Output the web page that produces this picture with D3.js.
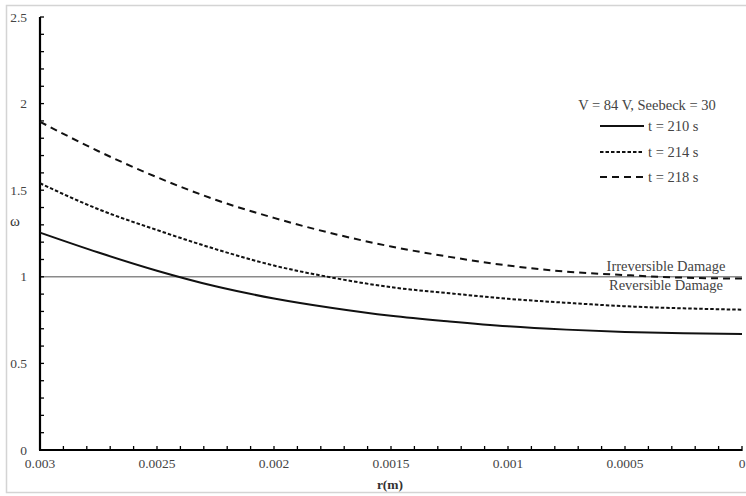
<!DOCTYPE html>
<html><head><meta charset="utf-8">
<script src="https://cdn.jsdelivr.net/npm/d3@7"></script>
<style>body{margin:0;background:#fff}svg{display:block;font-family:"Liberation Serif","Times New Roman",serif}</style>
</head><body><svg id="c" width="746" height="496"></svg>
<script>
const rValues = [0.003,0.00275,0.0025,0.00225,0.002,0.00175,0.0015,0.00125,0.001,0.00075,0.0005,0.00025,0];
const omega210 = [1.255,1.14,1.035,0.945,0.875,0.82,0.775,0.742,0.714,0.695,0.682,0.674,0.67];
const omega214 = [1.54,1.39,1.27,1.16,1.065,0.995,0.94,0.905,0.873,0.85,0.83,0.818,0.81];
const omega218 = [1.895,1.725,1.575,1.445,1.34,1.25,1.175,1.115,1.065,1.03,1.01,0.995,0.99];
const seriesLabels = ["t = 210 s","t = 214 s","t = 218 s"];
const xTicks = [0.003,0.0025,0.002,0.0015,0.001,0.0005,0];
const xTickLabels = ["0.003","0.0025","0.002","0.0015","0.001","0.0005","0"];
const yTicks = [0,0.5,1,1.5,2,2.5];
const yTickLabels = ["0","0.5","1","1.5","2","2.5"];
const threshold = 1;
const legendTitle = "V = 84 V, Seebeck = 30";

const svg = d3.select("#c");
svg.append("rect").attr("x",6.5).attr("y",5.5).attr("width",760).attr("height",487)
  .attr("fill","#fff").attr("stroke","#d4d4d4").attr("stroke-width",1.5);

const x = d3.scaleLinear().domain([0.003,0]).range([40,742]);
const y = d3.scaleLinear().domain([0,2.5]).range([450,17]);

// threshold line
svg.append("line").attr("x1",x(0.003)).attr("x2",x(0)).attr("y1",y(threshold)).attr("y2",y(threshold))
  .attr("stroke","#8a8a8a").attr("stroke-width",1.6);

// axes
const yMinor = d3.range(0,2.51,0.1);
const xMinor = d3.range(0,0.00301,0.0001);
const gy = svg.append("g");
gy.append("line").attr("x1",40).attr("x2",40).attr("y1",y(2.5)).attr("y2",y(0)).attr("stroke","#000").attr("stroke-width",2.2);
gy.selectAll("line.t").data(yMinor).join("line").attr("class","t")
  .attr("x1",40).attr("x2",44).attr("y1",d=>y(d)).attr("y2",d=>y(d)).attr("stroke","#000").attr("stroke-width",1.3);
gy.selectAll("text").data(yTicks).join("text")
  .attr("x",27).attr("y",d=>y(d)+4.5).attr("text-anchor","end").attr("font-size",13.5).attr("fill","#444")
  .text((d,i)=>yTickLabels[i]);

const gx = svg.append("g");
gx.append("line").attr("x1",x(0.003)-1).attr("x2",x(0)).attr("y1",450).attr("y2",450).attr("stroke","#000").attr("stroke-width",2.2);
gx.selectAll("line.t").data(xMinor).join("line").attr("class","t")
  .attr("x1",d=>x(d)).attr("x2",d=>x(d)).attr("y1",446).attr("y2",451).attr("stroke","#000").attr("stroke-width",1.3);
gx.selectAll("text").data(xTicks).join("text")
  .attr("x",d=>x(d)).attr("y",468).attr("text-anchor","middle").attr("font-size",13.5).attr("fill","#444")
  .text((d,i)=>xTickLabels[i]);

svg.append("text").attr("x",390).attr("y",489).attr("text-anchor","middle").attr("font-size",13.5)
  .attr("font-weight","bold").attr("fill","#333").text("r(m)");
svg.append("text").attr("x",15).attr("y",226).attr("text-anchor","middle").attr("font-size",15)
  .attr("fill","#333").text("ω");

// series
const dashes = [null,"3.5,2","7,5"];
const series = [omega210,omega214,omega218];
const line = d3.line().x(d=>x(d[0])).y(d=>y(d[1])).curve(d3.curveMonotoneX);
series.forEach((vals,i)=>{
  svg.append("path").datum(rValues.map((r,j)=>[r,vals[j]]))
    .attr("d",line).attr("fill","none").attr("stroke","#111").attr("stroke-width",2)
    .attr("stroke-dasharray",dashes[i]);
});

// annotations
svg.append("text").attr("x",666).attr("y",271).attr("text-anchor","middle").attr("font-size",14.5).attr("fill","#444").text("Irreversible Damage");
svg.append("text").attr("x",666).attr("y",290).attr("text-anchor","middle").attr("font-size",14.5).attr("fill","#444").text("Reversible Damage");

// legend
svg.append("text").attr("x",647).attr("y",110).attr("text-anchor","middle").attr("font-size",14.5).attr("fill","#444").text(legendTitle);
const legY = [126,152,177];
seriesLabels.forEach((lab,i)=>{
  svg.append("line").attr("x1",600).attr("x2",644).attr("y1",legY[i]).attr("y2",legY[i])
    .attr("stroke","#111").attr("stroke-width",2).attr("stroke-dasharray",dashes[i]);
  svg.append("text").attr("x",648).attr("y",legY[i]+5).attr("font-size",14.5).attr("fill","#444").text(lab);
});
</script></body></html>
